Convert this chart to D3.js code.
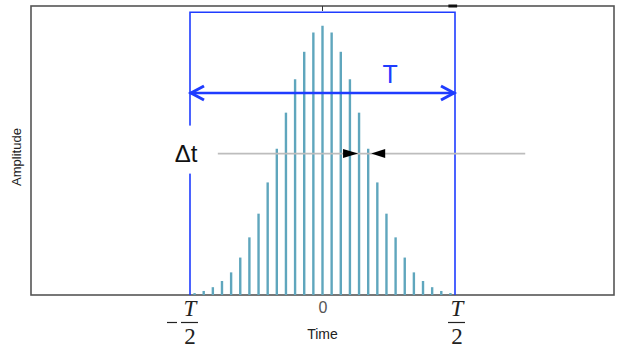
<!DOCTYPE html>
<html>
<head>
<meta charset="utf-8" />
<script src="https://d3js.org/d3.v7.min.js"></script>
<style>
  body { margin: 0; background: #fff; }
  svg { display: block; font-family: "Liberation Sans", Arial, sans-serif; }
</style>
</head>
<body>
<svg id="chart" width="623" height="347"></svg>
<script>
// sample index k (t = k * dt), amplitude of each sample
var sampleIndex = [-14, -13, -12, -11, -10, -9, -8, -7, -6, -5, -4, -3, -2, -1, 0,
                   1, 2, 3, 4, 5, 6, 7, 8, 9, 10, 11, 12, 13, 14];
var amplitude = [0.007, 0.015, 0.029, 0.052, 0.084, 0.139, 0.214, 0.302, 0.418, 0.543,
                 0.677, 0.801, 0.903, 0.975, 1.0, 0.975, 0.903, 0.801, 0.677, 0.543,
                 0.418, 0.302, 0.214, 0.139, 0.084, 0.052, 0.029, 0.015, 0.007];
var dt = 1 / 29;          // sample spacing, in units of T
var tickValues = [-0.5, 0, 0.5];
var tickLabels = ["-T/2", "0", "T/2"];

var svg = d3.select("#chart"),
  margin = { top: 6, right: 9, bottom: 52, left: 31 },
  W = +svg.attr("width"), H = +svg.attr("height");

var x = d3.scaleLinear().domain([-1.1, 1.1]).range([margin.left, W - margin.right]);
var y = d3.scaleLinear().domain([0, 1.073]).range([H - margin.bottom, margin.top]);

var blue = "#1f3cff", teal = "#5fa6bd";

// frame
svg.append("rect")
  .attr("x", x(-1.1)).attr("y", y(1.073))
  .attr("width", x(1.1) - x(-1.1)).attr("height", y(0) - y(1.073))
  .attr("fill", "none").attr("stroke", "#555").attr("stroke-width", 1.6);

// top tick at 0 and small dash
svg.append("line").attr("x1", x(0)).attr("x2", x(0)).attr("y1", y(1.073)).attr("y2", y(1.073) + 5)
  .attr("stroke", "#333").attr("stroke-width", 1);
svg.append("line").attr("x1", x(0.475)).attr("x2", x(0.508)).attr("y1", y(1.073)).attr("y2", y(1.073))
  .attr("stroke", "#111").attr("stroke-width", 3);

// stems
svg.selectAll("line.stem")
  .data(sampleIndex.map((k, i) => ({ t: k * dt, a: amplitude[i] })))
  .enter().append("line")
  .attr("class", "stem")
  .attr("x1", d => x(d.t)).attr("x2", d => x(d.t))
  .attr("y1", y(0)).attr("y2", d => y(d.a))
  .attr("stroke", teal).attr("stroke-width", 2.4);

// blue window box
var boxTop = y(1.05);
svg.append("path")
  .attr("d", "M" + x(-0.5) + "," + y(0) + "V" + boxTop + "H" + x(0.5) + "V" + y(0))
  .attr("fill", "none").attr("stroke", blue).attr("stroke-width", 1.6);

// T double arrow
var ay = y(0.75);
svg.append("line").attr("x1", x(-0.5)).attr("x2", x(0.5)).attr("y1", ay).attr("y2", ay)
  .attr("stroke", blue).attr("stroke-width", 2.6);
svg.append("path")
  .attr("d", "M" + (x(-0.5) + 14) + "," + (ay - 7) + "L" + (x(-0.5) + 1) + "," + ay + "L" + (x(-0.5) + 14) + "," + (ay + 7))
  .attr("fill", "none").attr("stroke", blue).attr("stroke-width", 3);
svg.append("path")
  .attr("d", "M" + (x(0.5) - 14) + "," + (ay - 7) + "L" + (x(0.5) - 1) + "," + ay + "L" + (x(0.5) - 14) + "," + (ay + 7))
  .attr("fill", "none").attr("stroke", blue).attr("stroke-width", 3);
svg.append("text").attr("x", x(0.255)).attr("y", ay - 10)
  .attr("text-anchor", "middle").attr("font-size", 25).attr("fill", blue).text("T");

// delta t marker
var gy = y(0.525);
svg.append("line").attr("x1", x(-0.395)).attr("x2", x(0.765)).attr("y1", gy).attr("y2", gy)
  .attr("stroke", "#bdbdbd").attr("stroke-width", 1.6);
svg.append("rect").attr("x", 168).attr("y", gy - 28).attr("width", 34).attr("height", 48).attr("fill", "#fff");
svg.append("text").attr("x", 186).attr("y", gy + 8)
  .attr("text-anchor", "middle").attr("font-size", 24).attr("fill", "#111").text("\u0394t");
var a1 = x(4 * dt) - 1, a2 = x(5 * dt) + 3;
svg.append("path").attr("d", "M" + a1 + "," + gy + "L" + (a1 - 15) + "," + (gy - 4.5) + "L" + (a1 - 15) + "," + (gy + 4.5) + "Z")
  .attr("fill", "#000");
svg.append("path").attr("d", "M" + a2 + "," + gy + "L" + (a2 + 14) + "," + (gy - 4.5) + "L" + (a2 + 14) + "," + (gy + 4.5) + "Z")
  .attr("fill", "#000");

// bottom axis: 0 via d3 axis, fractions drawn by hand
var ax = svg.append("g").attr("transform", "translate(0," + y(0) + ")")
  .call(d3.axisBottom(x).tickValues([0]).tickSize(0).tickPadding(7).tickFormat(d => tickLabels[1]));
ax.select(".domain").remove();
ax.selectAll("text").style("font-size", "16px").attr("fill", "#555")
  .style("font-family", "Liberation Sans, Arial, sans-serif");

[tickValues[0], tickValues[2]].forEach(function (v, i) {
  var cx = x(v) + (i === 0 ? 0 : 2);
  var g = svg.append("g").attr("font-family", "Liberation Serif, Times New Roman, serif").attr("fill", "#222");
  g.append("text").attr("x", cx).attr("y", 316).attr("text-anchor", "middle")
    .attr("font-size", 23).attr("font-style", "italic").text("T");
  g.append("line").attr("x1", cx - 9).attr("x2", cx + 8).attr("y1", 322.5).attr("y2", 322.5)
    .attr("stroke", "#222").attr("stroke-width", 1.2);
  g.append("text").attr("x", cx).attr("y", 343.5).attr("text-anchor", "middle")
    .attr("font-size", 23).text("2");
  if (tickLabels[i * 2].charAt(0) === "-") {
    g.append("line").attr("x1", cx - 23).attr("x2", cx - 13).attr("y1", 322.5).attr("y2", 322.5)
      .attr("stroke", "#222").attr("stroke-width", 1.2);
  }
});

svg.append("text").attr("x", x(0)).attr("y", 339).attr("text-anchor", "middle")
  .attr("font-size", 14).attr("fill", "#222").text("Time");
svg.append("text").attr("transform", "translate(21,157) rotate(-90)").attr("text-anchor", "middle")
  .attr("font-size", 13).attr("fill", "#222").text("Amplitude");
</script>
</body>
</html>
